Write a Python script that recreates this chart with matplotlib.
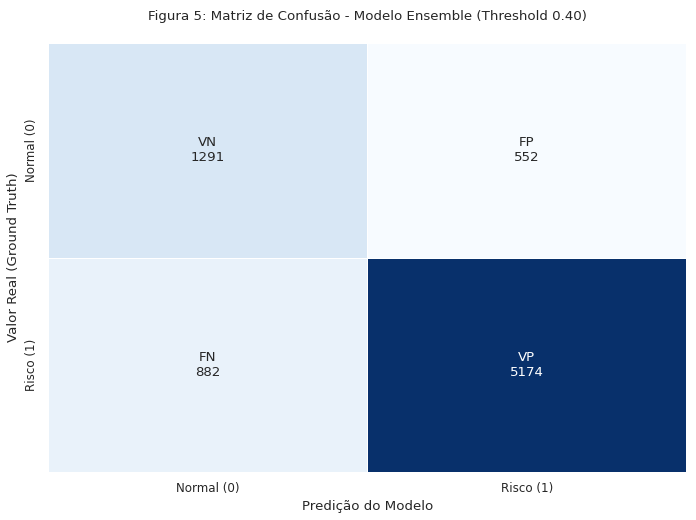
import matplotlib
matplotlib.use('Agg')
import matplotlib.pyplot as plt
import seaborn as sns
import numpy as np

sns.set_style('white')

# valores da matriz de confusao
matriz = np.array([[1291, 552],
                   [882, 5174]])
rotulos = [['VN', 'FP'],
           ['FN', 'VP']]
classes = ['Normal (0)', 'Risco (1)']

anot = np.array([[rotulos[r][c] + '\n' + str(matriz[r, c]) for c in range(2)] for r in range(2)])

fig = plt.figure(figsize=(6.96, 5.2), dpi=100)
ax = fig.add_axes([0.069, 0.092, 0.917, 0.825])
sns.heatmap(matriz, annot=anot, fmt='', cmap='Blues', cbar=False,
            linewidths=0.5, linecolor='white',
            xticklabels=classes, yticklabels=classes,
            annot_kws={'size': 9.6}, ax=ax)
ax.set_title('Figura 5: Matriz de Confusão - Modelo Ensemble (Threshold 0.40)', fontsize=9.6, pad=17)
ax.set_xlabel('Predição do Modelo', fontsize=9.6)
ax.set_ylabel('Valor Real (Ground Truth)', fontsize=9.6)
ax.tick_params(axis='both', labelsize=8.6)
plt.setp(ax.get_yticklabels(), rotation=90, va='center')

fig.savefig('out.png', dpi=100)
